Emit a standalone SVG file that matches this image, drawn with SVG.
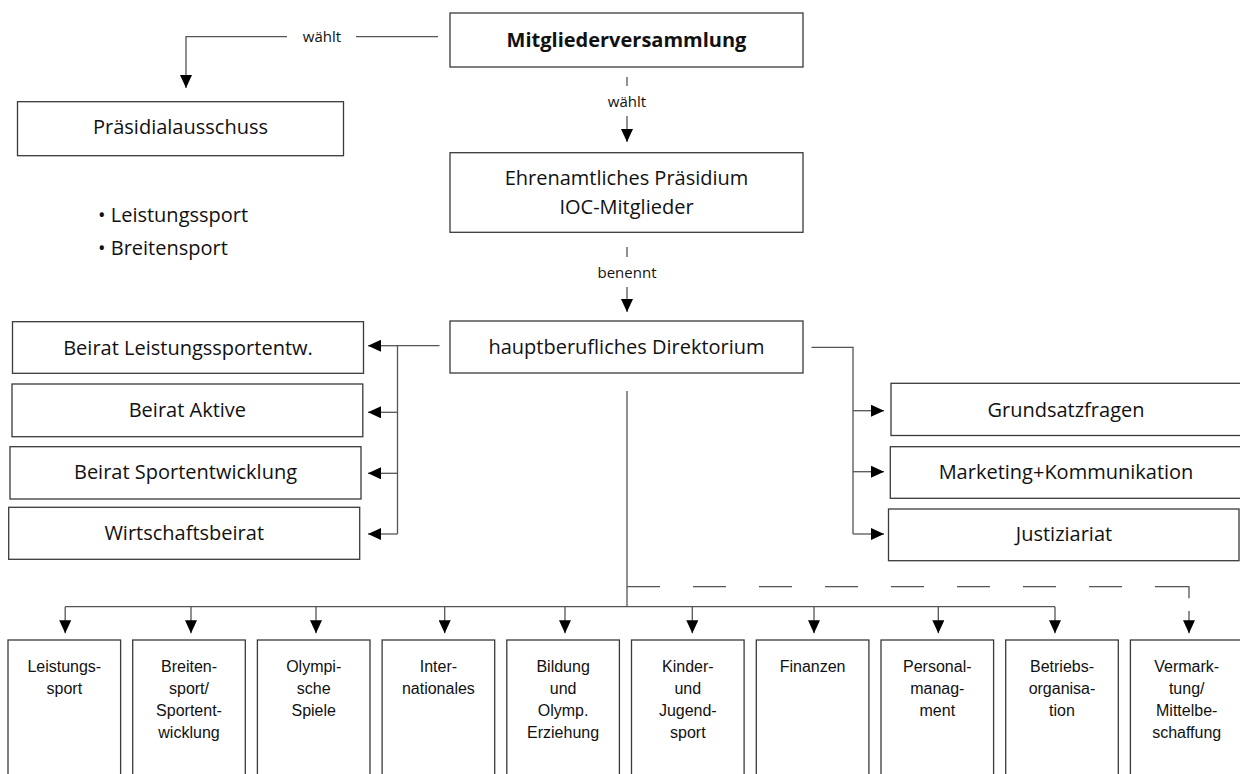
<svg xmlns="http://www.w3.org/2000/svg" width="1240" height="774" viewBox="0 0 1240 774">
<style>
.box{fill:#fff;stroke:#3a3a3a;stroke-width:1.3}
.t{font-family:"Open Sans","Noto Sans",sans-serif;font-size:20px;fill:#111;text-anchor:middle}
.b{font-weight:bold}
.lbl{font-family:"Open Sans","Noto Sans",sans-serif;font-size:15px;fill:#111;text-anchor:middle}
.s{font-family:"Liberation Sans",Arial,sans-serif;font-size:16px;fill:#111;text-anchor:middle}
.ln{fill:none;stroke:#555;stroke-width:1.3}
.ar{fill:none;stroke:#555;stroke-width:1.3;marker-end:url(#ah)}
</style>
<defs>
<marker id="ah" viewBox="0 0 13 12" refX="13" refY="6" markerWidth="13" markerHeight="12" markerUnits="userSpaceOnUse" orient="auto">
<path d="M0,0 L13,6 L0,12 z" fill="#000"/>
</marker>
</defs>
<rect width="1240" height="774" fill="#fff"/>

<g id="connectors">
<!-- top-left waehlt -->
<path class="ln" d="M438,36.7 H356"/>
<path class="ar" d="M287,36.7 H186 V88"/>
<text class="lbl" x="322" y="42">wählt</text>
<!-- middle waehlt -->
<path class="ln" d="M627,77 V86"/>
<text class="lbl" x="627" y="107">wählt</text>
<path class="ar" d="M627,116 V142"/>
<!-- benennt -->
<path class="ln" d="M627,247 V257"/>
<text class="lbl" x="627" y="278">benennt</text>
<path class="ar" d="M627,287 V312"/>
<!-- left Beirat bus -->
<path class="ln" d="M439.5,345.7 H397.5 V534"/>
<path class="ar" d="M397.5,345.7 H368"/>
<path class="ar" d="M397.5,412.3 H368"/>
<path class="ar" d="M397.5,473.3 H368"/>
<path class="ar" d="M397.5,534 H368"/>
<!-- right bus -->
<path class="ln" d="M811.5,347.3 H853 V534"/>
<path class="ar" d="M853,410.7 H884"/>
<path class="ar" d="M853,471.7 H884"/>
<path class="ar" d="M853,534 H884"/>
<!-- main trunk -->
<path class="ln" d="M627,391 V606.7"/>
<path class="ln" d="M65.2,606.7 H1055"/>
<path class="ar" d="M65.2,606.7 V633.3"/>
<path class="ar" d="M191,606.7 V633.3"/>
<path class="ar" d="M316,606.7 V633.3"/>
<path class="ar" d="M444.7,606.7 V633.3"/>
<path class="ar" d="M565,606.7 V633.3"/>
<path class="ar" d="M692.3,606.7 V633.3"/>
<path class="ar" d="M814,606.7 V633.3"/>
<path class="ar" d="M938.3,606.7 V633.3"/>
<path class="ar" d="M1055,606.7 V633.3"/>
<!-- dashed -->
<path class="ln" d="M627,586.7 H1156" stroke-dasharray="33 33"/>
<path class="ln" d="M1156,586.7 H1189 V598.3"/>
<path class="ar" d="M1189,611 V633.3"/>
</g>

<g id="mitgliederversammlung"><rect class="box" x="450" y="13" width="353" height="54"/><text class="t b" x="626.5" y="47">Mitgliederversammlung</text></g>
<g id="praesidialausschuss"><rect class="box" x="17.5" y="101.7" width="326" height="54"/><text class="t" x="180.5" y="134">Präsidialausschuss</text></g>
<g id="bullets"><text class="t" x="98" y="222" style="text-anchor:start">• Leistungssport</text><text class="t" x="98" y="255" style="text-anchor:start">• Breitensport</text></g>
<g id="praesidium"><rect class="box" x="450" y="152.7" width="353" height="79.6"/><text class="t" x="626.5" y="185">Ehrenamtliches Präsidium</text><text class="t" x="626.5" y="214">IOC-Mitglieder</text></g>
<g id="direktorium"><rect class="box" x="450" y="321" width="353" height="52"/><text class="t" x="626.5" y="354">hauptberufliches Direktorium</text></g>

<g id="beirat-leistung"><rect class="box" x="12.5" y="321.7" width="351" height="51.6"/><text class="t" x="188" y="354.5">Beirat Leistungssportentw.</text></g>
<g id="beirat-aktive"><rect class="box" x="12" y="384" width="350.8" height="52.7"/><text class="t" x="187.4" y="417">Beirat Aktive</text></g>
<g id="beirat-sportentwicklung"><rect class="box" x="10" y="446.7" width="351" height="52.3"/><text class="t" x="185.5" y="479">Beirat Sportentwicklung</text></g>
<g id="wirtschaftsbeirat"><rect class="box" x="8.7" y="507.3" width="351" height="52"/><text class="t" x="184.2" y="540">Wirtschaftsbeirat</text></g>

<g id="grundsatzfragen"><rect class="box" x="891" y="383.3" width="352" height="52.2"/><text class="t" x="1066" y="417">Grundsatzfragen</text></g>
<g id="marketing"><rect class="box" x="890.3" y="446.7" width="352" height="51.6"/><text class="t" x="1066" y="478.5">Marketing+Kommunikation</text></g>
<g id="justiziariat"><rect class="box" x="888.5" y="509" width="350.5" height="51.7"/><text class="t" x="1064" y="541">Justiziariat</text></g>

<g id="leistungssport"><rect class="box" x="8" y="640" width="112.6" height="160"/><text class="s" x="64.3" y="671.5">Leistungs-</text><text class="s" x="64.3" y="693.5">sport</text></g>
<g id="breitensport"><rect class="box" x="132.7" y="640" width="112.6" height="160"/><text class="s" x="189" y="671.5">Breiten-</text><text class="s" x="189" y="693.5">sport/</text><text class="s" x="189" y="715.5">Sportent-</text><text class="s" x="189" y="737.5">wicklung</text></g>
<g id="olympische-spiele"><rect class="box" x="257.4" y="640" width="112.6" height="160"/><text class="s" x="313.7" y="671.5">Olympi-</text><text class="s" x="313.7" y="693.5">sche</text><text class="s" x="313.7" y="715.5">Spiele</text></g>
<g id="internationales"><rect class="box" x="382.1" y="640" width="112.6" height="160"/><text class="s" x="438.4" y="671.5">Inter-</text><text class="s" x="438.4" y="693.5">nationales</text></g>
<g id="bildung"><rect class="box" x="506.8" y="640" width="112.6" height="160"/><text class="s" x="563.1" y="671.5">Bildung</text><text class="s" x="563.1" y="693.5">und</text><text class="s" x="563.1" y="715.5">Olymp.</text><text class="s" x="563.1" y="737.5">Erziehung</text></g>
<g id="kinder-jugendsport"><rect class="box" x="631.5" y="640" width="112.6" height="160"/><text class="s" x="687.8" y="671.5">Kinder-</text><text class="s" x="687.8" y="693.5">und</text><text class="s" x="687.8" y="715.5">Jugend-</text><text class="s" x="687.8" y="737.5">sport</text></g>
<g id="finanzen"><rect class="box" x="756.3" y="640" width="112.6" height="160"/><text class="s" x="812.6" y="671.5">Finanzen</text></g>
<g id="personalmanagment"><rect class="box" x="881" y="640" width="112.6" height="160"/><text class="s" x="937.3" y="671.5">Personal-</text><text class="s" x="937.3" y="693.5">manag-</text><text class="s" x="937.3" y="715.5">ment</text></g>
<g id="betriebsorganisation"><rect class="box" x="1005.7" y="640" width="112.6" height="160"/><text class="s" x="1062" y="671.5">Betriebs-</text><text class="s" x="1062" y="693.5">organisa-</text><text class="s" x="1062" y="715.5">tion</text></g>
<g id="vermarktung"><rect class="box" x="1130.4" y="640" width="112.6" height="160"/><text class="s" x="1186.7" y="671.5">Vermark-</text><text class="s" x="1186.7" y="693.5">tung/</text><text class="s" x="1186.7" y="715.5">Mittelbe-</text><text class="s" x="1186.7" y="737.5">schaffung</text></g>
</svg>
